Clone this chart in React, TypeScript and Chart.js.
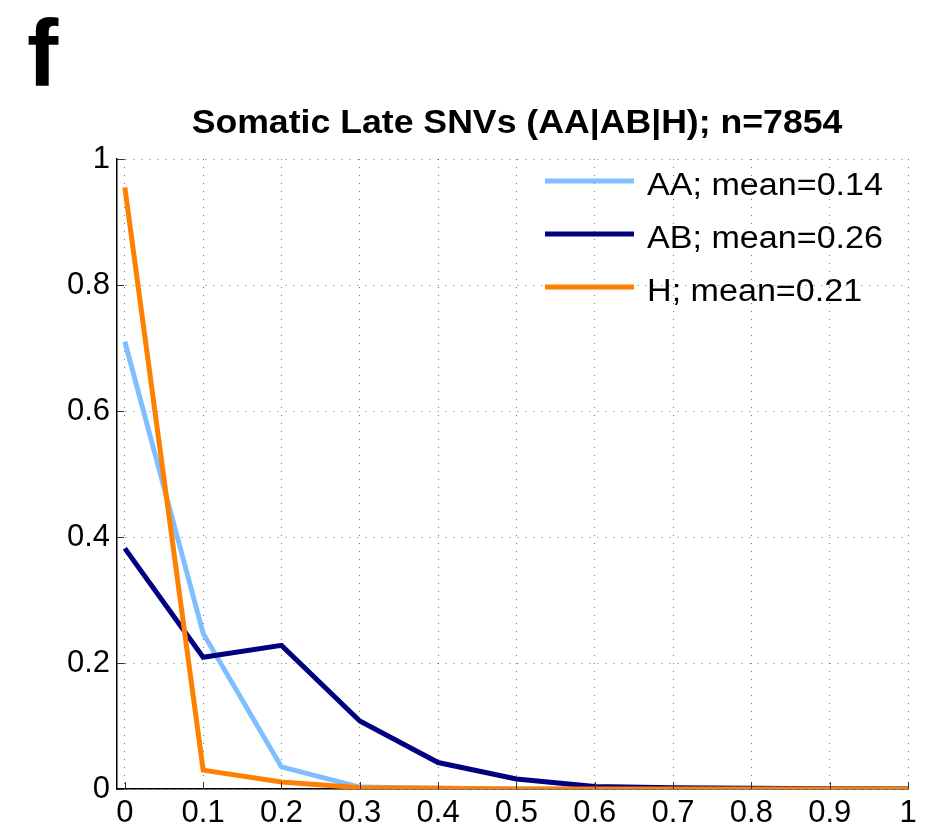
import React, { useEffect, useRef } from "react";
import { Chart, registerables } from "chart.js";

Chart.register(...registerables);

// ---- data ----
const panelLetter = "f";
const chartTitle = "Somatic Late SNVs (AA|AB|H); n=7854";
const binCenters = [0, 0.1, 0.2, 0.3, 0.4, 0.5, 0.6, 0.7, 0.8, 0.9, 1];
const aaValues = [0.71, 0.247, 0.035, 0.003, 0.001, 0, 0, 0, 0, 0, 0];
const abValues = [0.382, 0.209, 0.228, 0.108, 0.042, 0.016, 0.004, 0.002, 0.001, 0.0005, 0];
const hValues = [0.955, 0.03, 0.011, 0.002, 0.001, 0, 0, 0, 0, 0, 0];
const seriesLabels = ["AA; mean=0.14", "AB; mean=0.26", "H; mean=0.21"];
const xTickValues = [0, 0.1, 0.2, 0.3, 0.4, 0.5, 0.6, 0.7, 0.8, 0.9, 1];
const xTickLabels = ["0", "0.1", "0.2", "0.3", "0.4", "0.5", "0.6", "0.7", "0.8", "0.9", "1"];
const yTickValues = [0, 0.2, 0.4, 0.6, 0.8, 1];
const yTickLabels = ["0", "0.2", "0.4", "0.6", "0.8", "1"];

const FONT = "'Liberation Sans', Arial, Helvetica, sans-serif";
const COLORS = ["#80BFFF", "#000080", "#FF8000"];

const decorPlugin = {
  id: "decor",
  afterDraw(chart: any) {
    const ctx = chart.ctx;
    const area = chart.chartArea;
    const xs = chart.scales.x;
    const ys = chart.scales.y;
    ctx.save();
    // inward tick marks
    ctx.strokeStyle = "#333";
    ctx.lineWidth = 1;
    ctx.beginPath();
    xTickValues.forEach((v) => {
      const px = Math.round(xs.getPixelForValue(v)) + 0.5;
      ctx.moveTo(px, area.bottom);
      ctx.lineTo(px, area.bottom - 7);
    });
    yTickValues.forEach((v) => {
      const py = Math.round(ys.getPixelForValue(v)) + 0.5;
      ctx.moveTo(area.left, py);
      ctx.lineTo(area.left + 7, py);
    });
    ctx.stroke();

    // panel letter
    ctx.fillStyle = "#000";
    ctx.textAlign = "left";
    ctx.textBaseline = "alphabetic";
    ctx.font = `bold 94px ${FONT}`;
    ctx.fillText(panelLetter, 27, 86);

    // title
    ctx.font = `bold 33px ${FONT}`;
    ctx.textAlign = "center";
    ctx.save();
    ctx.translate(517, 133);
    ctx.scale(1.08, 1);
    ctx.fillText(chartTitle, 0, 0);
    ctx.restore();

    // legend
    ctx.textAlign = "left";
    ctx.font = `31px ${FONT}`;
    chart.data.datasets.forEach((ds: any, i: number) => {
      const y = 181 + i * 53;
      ctx.strokeStyle = ds.borderColor;
      ctx.lineWidth = 5;
      ctx.beginPath();
      ctx.moveTo(545, y);
      ctx.lineTo(634, y);
      ctx.stroke();
      ctx.save();
      ctx.translate(647, y + 14);
      ctx.scale(1.1, 1);
      ctx.fillStyle = "#000";
      ctx.fillText(ds.label, 0, 0);
      ctx.restore();
    });
    ctx.restore();
  },
};

export default function App() {
  const ref = useRef<HTMLCanvasElement | null>(null);
  useEffect(() => {
    if (!ref.current) return;
    const series = [aaValues, abValues, hValues];
    const orders = [2, 1, 0];
    const chart = new Chart(ref.current, {
      type: "line",
      data: {
        datasets: series.map((vals, i) => ({
          label: seriesLabels[i],
          data: binCenters.map((x, j) => ({ x, y: vals[j] })),
          borderColor: COLORS[i],
          backgroundColor: COLORS[i],
          borderWidth: 5,
          pointRadius: 0,
          tension: 0,
          fill: false,
          order: orders[i],
          borderJoinStyle: "miter",
        })),
      },
      options: {
        animation: false,
        responsive: false,
        devicePixelRatio: 1,
        layout: { padding: { left: 0, right: 20, top: 159, bottom: 0 } },
        plugins: {
          legend: { display: false },
          title: { display: false },
          tooltip: { enabled: false },
        },
        scales: {
          x: {
            type: "linear",
            min: -0.01,
            max: 1,
            afterBuildTicks: (s: any) => {
              s.ticks = xTickValues.map((v) => ({ value: v }));
            },
            afterFit: (s: any) => {
              s.height = 40;
            },
            ticks: {
              callback: (_v: any, i: number) => xTickLabels[i],
              font: { family: FONT, size: 31 },
              color: "#000",
              padding: 6,
              maxRotation: 0,
              autoSkip: false,
            },
            grid: { color: "rgba(0,0,0,0.55)", lineWidth: 1, drawTicks: false },
            border: { display: true, color: "#000", width: 1.5, dash: [1, 7] },
          },
          y: {
            type: "linear",
            min: 0,
            max: 1,
            afterBuildTicks: (s: any) => {
              s.ticks = yTickValues.map((v) => ({ value: v }));
            },
            afterFit: (s: any) => {
              s.width = 117;
            },
            ticks: {
              callback: (_v: any, i: number) => yTickLabels[i],
              font: { family: FONT, size: 31 },
              color: "#000",
              padding: 7,
              autoSkip: false,
            },
            grid: { color: "rgba(0,0,0,0.55)", lineWidth: 1, drawTicks: false },
            border: { display: true, color: "#000", width: 1.5, dash: [1, 7] },
          },
        },
      },
      plugins: [decorPlugin],
    } as any);
    return () => chart.destroy();
  }, []);
  return (
    <div style={{ position: "absolute", left: 0, top: 0, width: 928, height: 829, background: "#fff" }}>
      <canvas ref={ref} width={928} height={829} style={{ width: 928, height: 829, display: "block" }} />
    </div>
  );
}
